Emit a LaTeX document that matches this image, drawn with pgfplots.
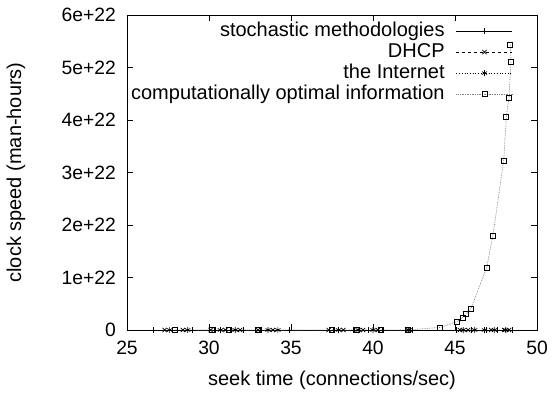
\documentclass[border=0pt]{standalone}
\usepackage{fontspec}
\setmainfont{Liberation Sans}
\usepackage{pgfplots}
\pgfplotsset{compat=1.18}
\begin{document}
\begin{tikzpicture}
\path[use as bounding box] (-127bp,-65bp) rectangle (426bp,330bp);
\begin{axis}[
  scale only axis, width=410bp, height=315bp,
  anchor=south west, at={(0,0)},
  xmin=25, xmax=50, ymin=0, ymax=6,
  xtick={25,30,35,40,45,50},
  ytick={0,1,2,3,4,5,6},
  yticklabels={0,1e+22,2e+22,3e+22,4e+22,5e+22,6e+22},
  tick align=inside, tick pos=both,
  major tick length=6bp,
  tick style={black, line width=0.7bp},
  axis line style={line width=0.8bp},
  font=\fontsize{20bp}{23bp}\selectfont,
  tick label style={font=\fontsize{19.3bp}{22bp}\selectfont},
  /pgf/number format/assume math mode=true,
  xticklabel style={yshift=-8bp},
  yticklabel style={inner xsep=11bp},
  every axis x label/.style={at={(axis description cs:0.5,0)}, anchor=center, yshift=-50bp},
  every axis y label/.style={at={(axis description cs:0,0.5)}, anchor=center, rotate=90, yshift=111bp},
  xlabel={seek time (connections/sec)},
  ylabel={clock speed (man-hours)},
  legend cell align=right,
  legend plot pos=right,
  legend style={at={(rel axis cs:0.9415,0.983)}, anchor=north east, draw=none, fill=none,
    inner sep=0pt, row sep=0pt, column sep=10bp,
    nodes={inner sep=1.5bp, text height=14bp, text depth=4bp}},
  legend image code/.code={\draw[mark repeat=2,mark phase=2] plot coordinates {(0bp,0bp)(28bp,0bp)(56bp,0bp)};},
]
\addplot[black, line width=0.7bp, mark=+, mark size=3bp] coordinates {
(26.6,0)(28.1,0)(29.0,0)(30.4,0)(31.3,0)(32.1,0)(33.2,0)(34.9,0)(37.6,0)(38.8,0)(39.7,0)(40.6,0)(42.4,0)(45.1,0)(46.0,0)(46.9,0)(47.6,0)(48.5,0)};
\addlegendentry{stochastic methodologies}
\addplot[black, line width=0.7bp, dashed, mark=x, mark size=3bp, mark options={solid}] coordinates {
(27.3,0)(28.4,0)(30.1,0)(31.0,0)(31.9,0)(33.0,0)(33.9,0)(37.3,0)(38.2,0)(39.4,0)(40.3,0)(42.1,0)(45.3,0)(45.8,0)(47.2,0)(48.0,0)(48.3,0)};
\addlegendentry{DHCP}
\addplot[black, line width=0.7bp, dotted, mark=asterisk, mark size=3bp, mark options={solid}] coordinates {
(27.6,0)(28.7,0)(30.7,0)(31.6,0)(33.6,0)(34.2,0)(37.9,0)(39.1,0)(40.0,0)(42.2,0)(45.5,0)(46.2,0)(46.8,0)(47.4,0)(48.1,0)};
\addlegendentry{the Internet}
\addplot[black!50, line width=0.7bp, densely dotted, mark=square, mark size=2.5bp, mark options={solid, black, line width=0.7bp}] coordinates {
(27.9,0)(30.2,0)(31.2,0)(33.0,0)(37.5,0)(39.0,0)(40.5,0)(42.1,0)(44.09,0.05)(45.14,0.16)(45.45,0.24)(45.65,0.30)(45.98,0.41)(46.93,1.19)(47.30,1.785)(47.97,3.22)(48.13,4.06)(48.29,4.42)(48.41,5.11)(48.37,5.43)};
\addlegendentry{computationally optimal information}
\end{axis}
\end{tikzpicture}
\end{document}
